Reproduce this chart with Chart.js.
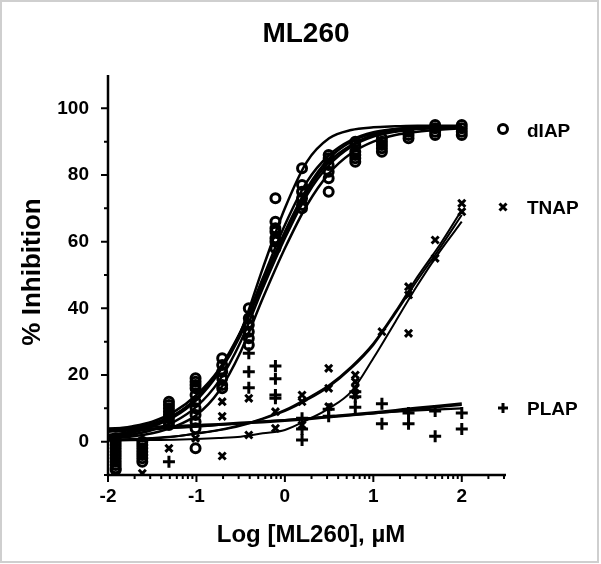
<!DOCTYPE html>
<html>
<head>
<meta charset="utf-8">
<script src="https://cdn.jsdelivr.net/npm/chart.js@4/dist/chart.umd.min.js"></script>
<style>
  html, body { margin: 0; padding: 0; background: #fff; }
  #wrap { width: 601px; height: 564px; }
</style>
</head>
<body>
<div id="wrap"><canvas id="chart" width="601" height="564"></canvas></div>
<script>
// log10 concentrations (2-fold dilutions from 100 uM)
const concentrations = [-1.913, -1.612, -1.311, -1.010, -0.709, -0.408, -0.107, 0.194, 0.495, 0.796, 1.097, 1.398, 1.699, 2.0];

// replicate readings at each concentration, % inhibition
const dIAPValues = [
    [1, 0, -1, -2, -3, -4, -5, -6, -7, -8, -8.5],
    [0, -1, -2, -3, -4, -5, -6],
    [12, 11, 10, 9, 8, 7, 6, 5],
    [19, 18, 17, 16, 14, 12, 10, 8, 6, 4, -2],
    [25, 23, 21, 19, 17, 16],
    [40, 37, 35, 33, 31, 29],
    [73, 66, 64, 63, 61, 60, 58],
    [82, 77, 75, 73, 71, 70],
    [86, 85, 83, 81, 79, 75],
    [90, 89, 87, 86, 85, 84],
    [91, 90, 89, 88, 87],
    [93, 92, 91],
    [95, 94, 93, 92],
    [95, 94, 93, 92],
];
const tnapValues = [
    [],
    [-9.5],
    [-2],
    [1],
    [12, 7.6, -4.3],
    [13, 2],
    [9, 4],
    [14, 12, 5],
    [22, 16, 10.5],
    [20, 18, 16, 14],
    [33],
    [46.5, 44, 32.5],
    [60.5, 55],
    [71.5, 69],
];
const plapValues = [
    [],
    [],
    [-6],
    [],
    [],
    [26.5, 21, 16.2],
    [22.7, 18.9, 14, 13],
    [7, 3.8, 0.5],
    [9.7, 7.6],
    [15, 13.5, 10.3],
    [11.4, 5.4],
    [8.6, 5.4],
    [9.2, 1.6],
    [8.6, 3.8],
];

// fitted curves at these x positions
const fitX = [-2, -1.75, -1.5, -1.25, -1, -0.75, -0.5, -0.25, 0, 0.25, 0.5, 0.75, 1, 1.25, 1.5, 1.75, 2];
const dIAPFits = [
    [3, 4, 5.5, 8, 13, 21, 33, 52, 70, 84, 91, 93.5, 94.3, 94.6, 94.8, 94.8, 94.8],
    [2, 3, 5, 8, 13, 21, 33, 49, 65, 78, 86, 90.5, 92.8, 93.8, 94.3, 94.5, 94.6],
    [1.5, 2.5, 4.5, 7.5, 12.5, 20.5, 32, 48, 63, 76, 85, 90, 92.5, 93.7, 94.2, 94.4, 94.5],
    [3.5, 4.5, 6, 9, 14, 21.5, 33, 47, 62, 75, 84, 89, 92, 93.5, 94, 94.3, 94.4],
    [1, 2, 3.5, 6, 10.5, 18, 30, 46, 61, 74, 83, 88.5, 91.5, 93, 93.8, 94.1, 94.3],
    [1, 1.5, 2.5, 4.5, 8, 15, 27, 43, 58, 71, 80.5, 86.5, 90, 92, 93, 93.6, 94],
];
const tnapFits = [
    [0.5, 0.7, 1, 1.5, 2.5, 3.5, 5, 7, 9.5, 13, 17, 22.5, 29.5, 39, 49.5, 59, 69.5],
    [0.6, 0.8, 1.1, 1.6, 2.4, 3.4, 4.8, 6.8, 9.2, 12.5, 16.5, 22, 29, 38.5, 48.5, 58, 68],
    [0.3, 0.4, 0.5, 0.6, 0.8, 1.1, 1.5, 2.5, 3.5, 6.5, 10, 15, 25, 36, 47, 57, 66],
];
const plapFits = [
    [4, 4.2, 4.5, 4.7, 5, 5.3, 5.7, 6.1, 6.5, 7, 7.6, 8.2, 8.8, 9.5, 10.2, 10.8, 11.5],
    [3.5, 3.7, 4, 4.3, 4.6, 5, 5.4, 5.8, 6.2, 6.7, 7.3, 7.9, 8.5, 9.1, 9.8, 10.4, 11],
    [3, 3.3, 3.7, 4.1, 4.5, 5, 5.5, 6, 6.5, 7, 7.5, 8, 8.5, 9, 9.4, 9.7, 10],
];

const yMajorTicks = [0, 20, 40, 60, 80, 100];
const yMinorTicks = [-10, 10, 30, 50, 70, 90];
const xMajorTicks = [-2, -1, 0, 1, 2];

const FONT = "'Liberation Sans', Arial, Helvetica, sans-serif";

function toPoints(values) {
    const pts = [];
    values.forEach((reps, i) => reps.forEach((v) => pts.push({ x: concentrations[i], y: v })));
    return pts;
}

function curveDataset(ys, width) {
    return {
        data: ys.map((y, i) => ({ x: fitX[i], y })),
        showLine: true,
        pointRadius: 0,
        borderColor: '#000',
        borderWidth: width,
        cubicInterpolationMode: 'monotone',
        fill: false,
    };
}

const datasets = [
    ...dIAPFits.map((ys) => curveDataset(ys, 2.5)),
    ...tnapFits.map((ys) => curveDataset(ys, 2)),
    ...plapFits.map((ys) => curveDataset(ys, 2.2)),
    {
        label: 'dIAP',
        data: toPoints(dIAPValues),
        pointStyle: 'circle',
        pointRadius: 4.5,
        pointBorderWidth: 3,
        borderColor: '#000',
        backgroundColor: 'rgba(0,0,0,0)',
    },
    {
        label: 'TNAP',
        data: toPoints(tnapValues),
        pointStyle: 'crossRot',
        pointRadius: 5,
        pointBorderWidth: 3,
        borderColor: '#000',
        backgroundColor: '#000',
    },
    {
        label: 'PLAP',
        data: toPoints(plapValues),
        pointStyle: 'cross',
        pointRadius: 6,
        pointBorderWidth: 3,
        borderColor: '#000',
        backgroundColor: '#000',
    },
];

// minor ticks on the log axis: n + log10(k)
function logMinorTicks(min, max) {
    const out = [];
    for (let n = Math.floor(min); n < max; n++) {
        for (let k = 2; k <= 9; k++) {
            const v = n + Math.log10(k);
            if (v > min && v <= max) out.push(v);
        }
    }
    return out;
}

const decorPlugin = {
    id: 'decor',
    afterDraw(chart) {
        const { ctx, chartArea, scales } = chart;
        const xs = scales.x;
        const ys = scales.y;
        ctx.save();

        // page frame
        ctx.strokeStyle = '#cfcfcf';
        ctx.lineWidth = 2;
        ctx.strokeRect(1, 1, 597, 561);

        // axes
        ctx.strokeStyle = '#000';
        ctx.lineWidth = 2.5;
        ctx.lineCap = 'butt';
        ctx.beginPath();
        ctx.moveTo(chartArea.left, chartArea.top);
        ctx.lineTo(chartArea.left, chartArea.bottom);
        ctx.lineTo(chartArea.right, chartArea.bottom);
        ctx.stroke();

        ctx.lineWidth = 2;
        ctx.beginPath();
        yMajorTicks.forEach((v) => {
            const p = ys.getPixelForValue(v);
            ctx.moveTo(chartArea.left, p);
            ctx.lineTo(chartArea.left - 7, p);
        });
        yMinorTicks.forEach((v) => {
            const p = ys.getPixelForValue(v);
            ctx.moveTo(chartArea.left, p);
            ctx.lineTo(chartArea.left - 4, p);
        });
        xMajorTicks.forEach((v) => {
            const p = xs.getPixelForValue(v);
            ctx.moveTo(p, chartArea.bottom);
            ctx.lineTo(p, chartArea.bottom + 7);
        });
        logMinorTicks(-2, 2.5).forEach((v) => {
            const p = xs.getPixelForValue(v);
            ctx.moveTo(p, chartArea.bottom);
            ctx.lineTo(p, chartArea.bottom + 4);
        });
        ctx.stroke();

        // titles
        ctx.fillStyle = '#000';
        ctx.textAlign = 'center';
        ctx.textBaseline = 'alphabetic';
        ctx.font = `bold 28px ${FONT}`;
        ctx.fillText('ML260', 306, 42);

        ctx.font = `bold 24px ${FONT}`;
        ctx.fillText('Log [ML260], \u00b5M', 311, 542);

        ctx.save();
        ctx.translate(40, 272);
        ctx.rotate(-Math.PI / 2);
        ctx.font = `bold 26px ${FONT}`;
        ctx.fillText('% Inhibition', 0, 0);
        ctx.restore();

        // legend
        const mx = 503;
        ctx.lineWidth = 3;
        ctx.beginPath();
        ctx.arc(mx, 129, 4.5, 0, Math.PI * 2);
        ctx.stroke();
        ctx.beginPath();
        ctx.moveTo(mx - 3.5, 207 - 3.5); ctx.lineTo(mx + 3.5, 207 + 3.5);
        ctx.moveTo(mx + 3.5, 207 - 3.5); ctx.lineTo(mx - 3.5, 207 + 3.5);
        ctx.moveTo(mx - 5, 408); ctx.lineTo(mx + 5, 408);
        ctx.moveTo(mx, 403); ctx.lineTo(mx, 413);
        ctx.stroke();

        ctx.textAlign = 'left';
        ctx.font = `bold 19px ${FONT}`;
        ctx.fillText('dIAP', 527, 137);
        ctx.fillText('TNAP', 527, 214);
        ctx.fillText('PLAP', 527, 415);
        ctx.restore();
    },
};

new Chart(document.getElementById('chart'), {
    type: 'scatter',
    data: { datasets },
    options: {
        responsive: false,
        animation: false,
        layout: { padding: { left: 0, right: 95, top: 75, bottom: 0 } },
        plugins: {
            legend: { display: false },
            title: { display: false },
            tooltip: { enabled: false },
        },
        scales: {
            x: {
                type: 'linear',
                min: -2,
                max: 2.5,
                afterFit: (s) => { s.height = 89; },
                afterBuildTicks: (s) => { s.ticks = xMajorTicks.map((v) => ({ value: v })); },
                grid: { display: false },
                border: { display: false },
                ticks: {
                    color: '#000',
                    padding: 2,
                    maxRotation: 0,
                    autoSkip: false,
                    font: { family: FONT, size: 19, weight: 'bold' },
                    callback: (v) => String(v),
                },
            },
            y: {
                type: 'linear',
                min: -10,
                max: 110,
                afterFit: (s) => { s.width = 108; },
                afterBuildTicks: (s) => { s.ticks = yMajorTicks.map((v) => ({ value: v })); },
                grid: { display: false },
                border: { display: false },
                ticks: {
                    color: '#000',
                    padding: 11,
                    autoSkip: false,
                    font: { family: FONT, size: 19, weight: 'bold' },
                    callback: (v) => String(v),
                },
            },
        },
    },
    plugins: [decorPlugin],
});
</script>
</body>
</html>
